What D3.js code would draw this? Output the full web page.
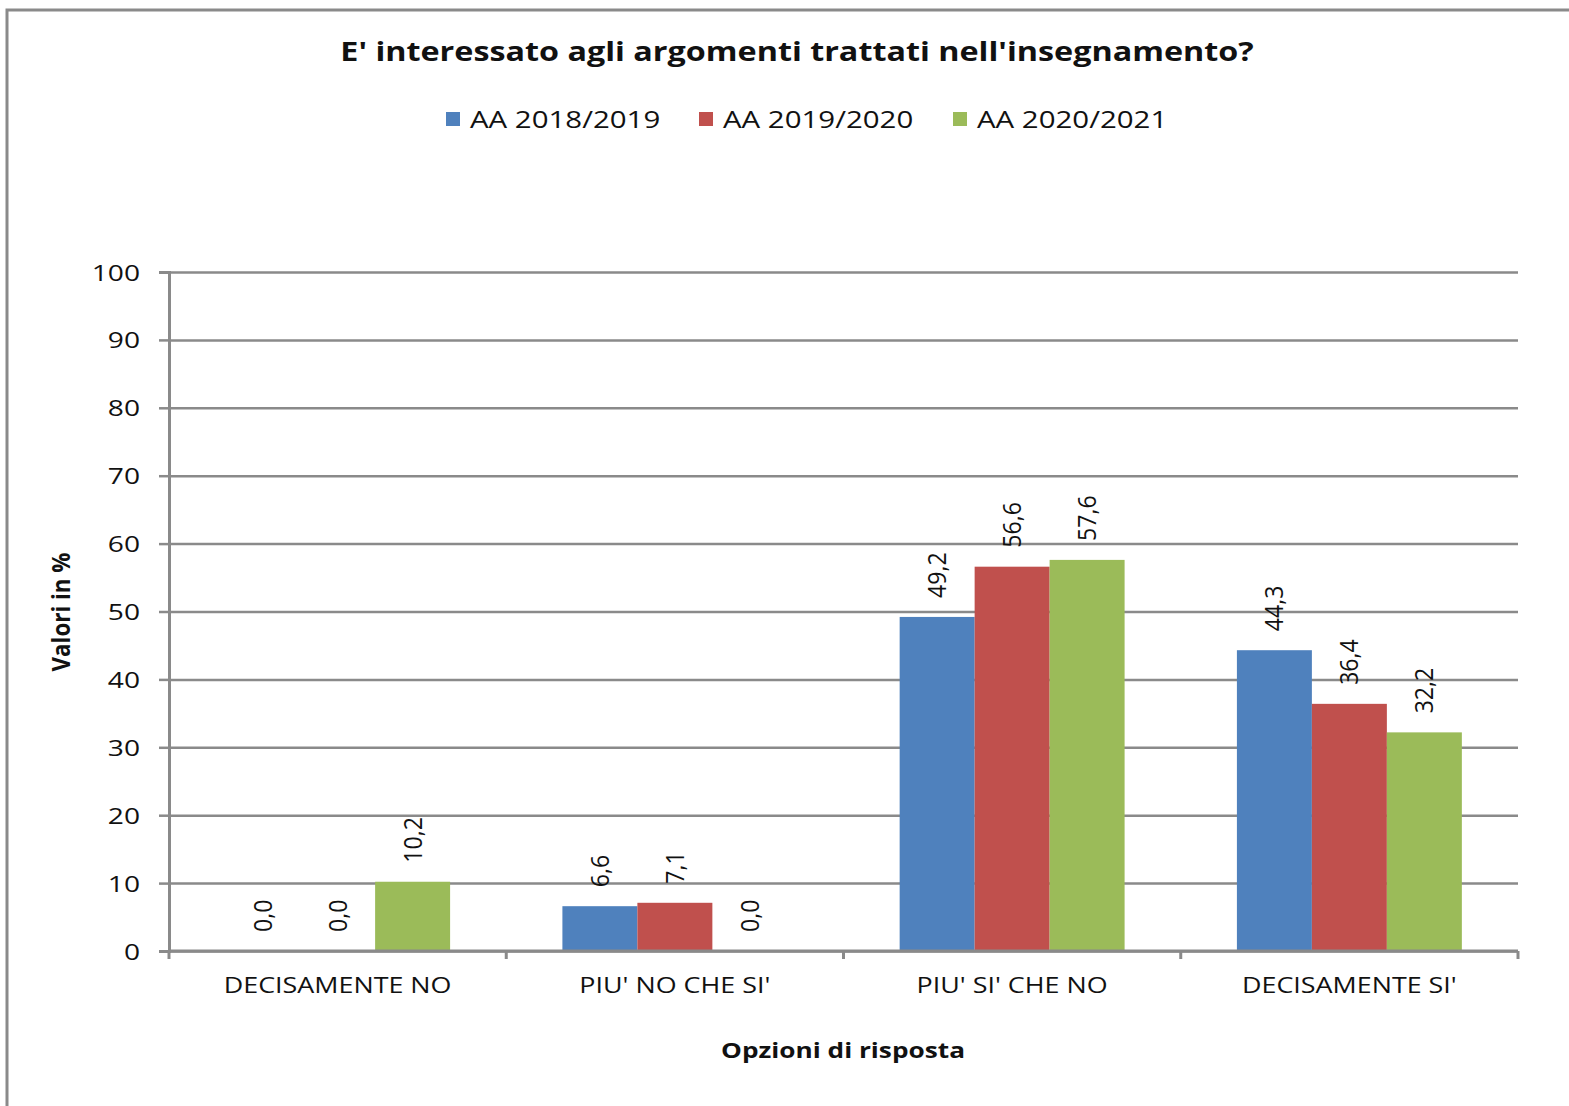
<!DOCTYPE html>
<html>
<head>
<meta charset="utf-8">
<script src="https://cdn.jsdelivr.net/npm/d3@7"></script>
<style>
  body { margin: 0; background: #fff; }
  text { font-family: "Open Sans", "Noto Sans", sans-serif; fill: #111; }
</style>
</head>
<body>
<svg id="chart"></svg>
<script>
// ── DATA ────────────────────────────────────────────────────────────────
const categories = ["DECISAMENTE NO", "PIU' NO CHE SI'", "PIU' SI' CHE NO", "DECISAMENTE SI'"];
const seriesNames = ["AA 2018/2019", "AA 2019/2020", "AA 2020/2021"];
const values2018 = [0.0, 6.6, 49.2, 44.3];
const values2019 = [0.0, 7.1, 56.6, 36.4];
const values2020 = [10.2, 0.0, 57.6, 32.2];
const yTicks = [0, 10, 20, 30, 40, 50, 60, 70, 80, 90, 100];

const COLORS = ["#4f81bd", "#c0504d", "#9bbb59"];
const seriesValues = [values2018, values2019, values2020];

// the reference is rendered a bit wide, so horizontal text gets stretched
const SX = 1.28;

// ── DIMENSIONS ──────────────────────────────────────────────────────────
const W = 1569, H = 1106;
const margin = { top: 272, right: 51, bottom: 155, left: 169 };
const innerW = W - margin.left - margin.right;
const innerH = H - margin.top - margin.bottom;

const svg = d3.select("#chart")
  .attr("width", W)
  .attr("height", H);

// outer frame (left + top edges visible)
svg.append("path")
  .attr("d", `M7,${H} L7,10 L${W},10`)
  .attr("fill", "none")
  .attr("stroke", "#8a8a8a")
  .attr("stroke-width", 3);

// title
svg.append("text")
  .attr("transform", "translate(797,61) scale(1.22,1)")
  .attr("text-anchor", "middle")
  .style("font-size", "26.5px")
  .style("font-weight", "700")
  .text("E' interessato agli argomenti trattati nell'insegnamento?");

// ── LEGEND ──────────────────────────────────────────────────────────────
const legendX = [446, 699, 953];
const legend = svg.append("g");
seriesNames.forEach((name, i) => {
  legend.append("rect")
    .attr("x", legendX[i]).attr("y", 112)
    .attr("width", 14).attr("height", 14)
    .attr("fill", COLORS[i]);
  legend.append("text")
    .attr("transform", `translate(${legendX[i] + 24},128) scale(${SX},1)`)
    .style("font-size", "23px")
    .text(name);
});

const g = svg.append("g")
  .attr("transform", `translate(${margin.left},${margin.top})`);

// ── SCALES ──────────────────────────────────────────────────────────────
const x0 = d3.scaleBand()
  .domain(categories)
  .range([0, innerW])
  .paddingInner(0.333)
  .paddingOuter(0.1665);

const x1 = d3.scaleBand()
  .domain(d3.range(seriesNames.length))
  .range([0, x0.bandwidth()]);

const y = d3.scaleLinear()
  .domain([0, 100])
  .range([innerH, 0]);

// ── GRID ────────────────────────────────────────────────────────────────
g.append("g")
  .call(d3.axisLeft(y).tickValues(yTicks).tickSize(-innerW).tickFormat(""))
  .call(ax => ax.select(".domain").remove())
  .call(ax => ax.selectAll(".tick line").attr("stroke", "#8a8a8a").attr("stroke-width", 2.5));

// ── BARS ────────────────────────────────────────────────────────────────
const rows = categories.map((c, ci) => ({
  cat: c,
  vals: seriesValues.map((s, si) => ({ si, v: s[ci] }))
}));

const groups = g.selectAll(".grp")
  .data(rows)
  .join("g")
    .attr("transform", d => `translate(${x0(d.cat)},0)`);

groups.selectAll("rect")
  .data(d => d.vals)
  .join("rect")
    .attr("x", d => x1(d.si))
    .attr("y", d => y(d.v))
    .attr("width", x1.bandwidth())
    .attr("height", d => innerH - y(d.v))
    .attr("fill", d => COLORS[d.si]);

groups.selectAll("text.lbl")
  .data(d => d.vals)
  .join("text")
    .attr("class", "lbl")
    .attr("transform", d => `translate(${x1(d.si) + x1.bandwidth() / 2 + 9},${y(d.v) - 19}) rotate(-90) scale(1.1,1.2)`)
    .style("font-size", "21px")
    .text(d => d.v.toFixed(1).replace(".", ","));

// ── AXES ────────────────────────────────────────────────────────────────
g.append("g")
  .call(d3.axisLeft(y).tickValues(yTicks).tickSize(10))
  .call(ax => ax.select(".domain").attr("stroke", "#8a8a8a").attr("stroke-width", 3))
  .call(ax => ax.selectAll(".tick line").attr("stroke", "#8a8a8a").attr("stroke-width", 2.5))
  .call(ax => ax.selectAll(".tick text")
    .attr("x", null).attr("dy", null)
    .attr("transform", `translate(-29,8) scale(${SX},1)`)
    .style("font-size", "22px")
    .style("font-family", "'Open Sans', sans-serif")
    .attr("fill", "#111"));

// category boundary ticks on x axis
const xAxis = g.append("g").attr("transform", `translate(0,${innerH})`);
xAxis.append("line")
  .attr("x1", 0).attr("x2", innerW)
  .attr("stroke", "#8a8a8a").attr("stroke-width", 3);
const step = x0.step();
xAxis.selectAll(".bt")
  .data(d3.range(categories.length + 1))
  .join("line")
    .attr("x1", i => i * step).attr("x2", i => i * step)
    .attr("y1", 0).attr("y2", 8)
    .attr("stroke", "#8a8a8a").attr("stroke-width", 3);
xAxis.selectAll(".cl")
  .data(categories)
  .join("text")
    .attr("transform", d => `translate(${x0(d) + x0.bandwidth() / 2},42) scale(${SX},1)`)
    .attr("text-anchor", "middle")
    .style("font-size", "21px")
    .text(d => d);

// axis titles
svg.append("text")
  .attr("transform", `translate(843,1058) scale(${SX},1)`)
  .attr("text-anchor", "middle")
  .style("font-size", "20.5px")
  .style("font-weight", "700")
  .text("Opzioni di risposta");

svg.append("text")
  .attr("transform", "translate(70,612) rotate(-90) scale(1.09,1.25)")
  .attr("text-anchor", "middle")
  .style("font-size", "20.5px")
  .style("font-weight", "700")
  .text("Valori in %");
</script>
</body>
</html>
